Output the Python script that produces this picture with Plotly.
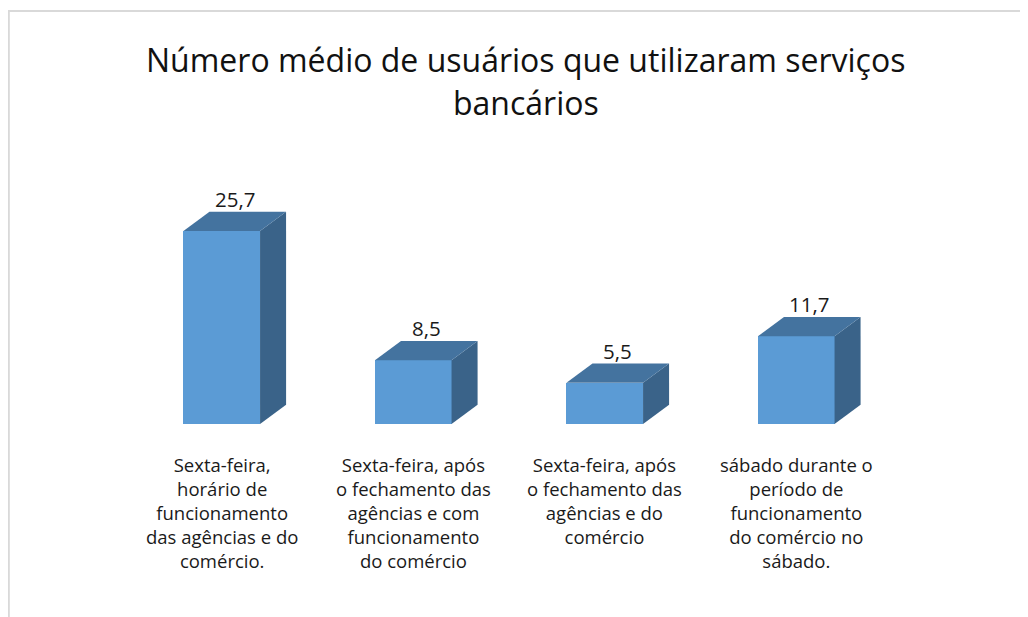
import plotly.graph_objects as go

# dados
categorias = [
    "Sexta-feira,<br>horário de<br>funcionamento<br>das agências e do<br>comércio.",
    "Sexta-feira, após<br>o fechamento das<br>agências e com<br>funcionamento<br>do comércio",
    "Sexta-feira, após<br>o fechamento das<br>agências e do<br>comércio",
    "sábado durante o<br>período de<br>funcionamento<br>do comércio no<br>sábado.",
]
valores = [25.7, 8.5, 5.5, 11.7]
rotulos = ["25,7", "8,5", "5,5", "11,7"]

titulo1 = "Número médio de usuários que utilizaram serviços"
titulo2 = "bancários"

# aparência do "3D"
largura = 0.4
prof_x = 0.136
prof_y = 2.55
cor_frente = "#5B9BD5"
cor_topo = "#44739F"
cor_lado = "#3A6389"
fonte = "Open Sans"

fig = go.Figure()

xs = list(range(len(valores)))

# faces frontais
fig.add_trace(go.Bar(
    x=xs, y=valores, width=largura,
    marker=dict(color=cor_frente, line=dict(width=0)),
    hoverinfo="skip", showlegend=False,
))

# faces laterais e de cima
for i, v in enumerate(valores):
    x0 = i - largura / 2
    x1 = i + largura / 2
    fig.add_trace(go.Scatter(
        x=[x1, x1 + prof_x, x1 + prof_x, x1, x1],
        y=[0, prof_y, v + prof_y, v, 0],
        fill="toself", fillcolor=cor_lado, mode="lines",
        line=dict(width=0), hoverinfo="skip", showlegend=False,
    ))
    fig.add_trace(go.Scatter(
        x=[x0, x1, x1 + prof_x, x0 + prof_x, x0],
        y=[v, v, v + prof_y, v + prof_y, v],
        fill="toself", fillcolor=cor_topo, mode="lines",
        line=dict(width=0), hoverinfo="skip", showlegend=False,
    ))
    # rótulo de valor
    fig.add_annotation(
        x=i + prof_x / 2, y=v + prof_y, text=rotulos[i],
        showarrow=False, yanchor="bottom", yshift=-3,
        font=dict(family=fonte, size=20.5, color="#1a1a1a"),
    )
    # rótulo da categoria
    fig.add_annotation(
        x=i, y=0, text=categorias[i], showarrow=False,
        yanchor="top", yshift=-26, align="center",
        font=dict(family=fonte, size=18.5, color="#1a1a1a"),
    )

fig.add_annotation(
    xref="paper", yref="paper", x=0.522, y=1.38, text=titulo1,
    showarrow=False, yanchor="middle",
    font=dict(family=fonte, size=32, color="#111111"),
)
fig.add_annotation(
    xref="paper", yref="paper", x=0.522, y=1.217, text=titulo2,
    showarrow=False, yanchor="middle",
    font=dict(family=fonte, size=32, color="#111111"),
)

# borda do gráfico
fig.add_shape(
    type="rect", xref="paper", yref="paper",
    x0=-0.153, x1=1.4, y0=-0.9, y1=1.564,
    line=dict(color="#d9d9d9", width=2), layer="below",
)

fig.update_layout(
    width=1028, height=617,
    margin=dict(l=118, r=144, t=152, b=201),
    plot_bgcolor="white", paper_bgcolor="white",
    bargap=0,
)
fig.update_xaxes(range=[-0.5, 3.5], visible=False, fixedrange=True)
fig.update_yaxes(range=[0, 35.15], visible=False, fixedrange=True)

fig.write_html("out.html")
